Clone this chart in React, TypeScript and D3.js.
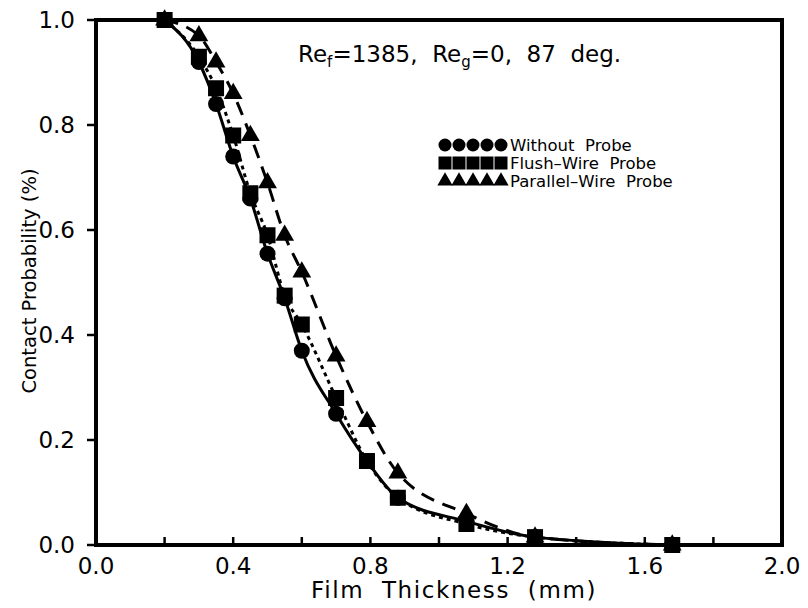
import React from "react";
import * as d3 from "d3";

const thickness = [0.2, 0.3, 0.35, 0.4, 0.45, 0.5, 0.55, 0.6, 0.7, 0.79, 0.88, 1.08, 1.28, 1.68];
const withoutProbe = [1.0, 0.92, 0.84, 0.74, 0.66, 0.555, 0.47, 0.37, 0.25, 0.16, 0.09, 0.045, 0.015, 0.0];
const flushWire = [1.0, 0.93, 0.87, 0.78, 0.67, 0.59, 0.475, 0.42, 0.28, 0.16, 0.09, 0.04, 0.015, 0.0];
const parallelWire = [1.0, 0.97, 0.92, 0.86, 0.78, 0.69, 0.59, 0.52, 0.36, 0.235, 0.137, 0.06, 0.015, 0.0];
const xTicks = [0.0, 0.4, 0.8, 1.2, 1.6, 2.0];
const yTicks = [0.0, 0.2, 0.4, 0.6, 0.8, 1.0];
const sp = "\u00a0\u00a0";
const legendLabels = [`Without${sp}Probe`, `Flush\u2013Wire${sp}Probe`, `Parallel\u2013Wire${sp}Probe`];

const W = 808, H = 608;
const margin = { left: 96, right: 26, top: 20, bottom: 63 };
const font = "'DejaVu Sans', sans-serif";

export default function App() {
  const ref = React.useRef<SVGSVGElement>(null);

  React.useEffect(() => {
    const svg = d3.select(ref.current);
    svg.selectAll("*").remove();

    const x = d3.scaleLinear().domain([0, 2]).range([margin.left, W - margin.right]);
    const y = d3.scaleLinear().domain([0, 1]).range([H - margin.bottom, margin.top]);

    const series = [
      { vals: withoutProbe, dash: null, shape: "circle" },
      { vals: flushWire, dash: "4,4", shape: "square" },
      { vals: parallelWire, dash: "14,9", shape: "triangle" },
    ];

    const line = d3.line<[number, number]>()
      .x(d => x(d[0]))
      .y(d => y(d[1]))
      .curve(d3.curveMonotoneX);

    const marker = (g: any, shape: string, cx: number, cy: number, s: number) => {
      if (shape === "circle") {
        g.append("circle").attr("cx", cx).attr("cy", cy).attr("r", s * 0.5).attr("fill", "#000");
      } else if (shape === "square") {
        g.append("rect").attr("x", cx - s / 2).attr("y", cy - s / 2)
          .attr("width", s).attr("height", s).attr("fill", "#000");
      } else {
        const t = d3.symbol().type(d3.symbolTriangle).size(s * s * 0.6)();
        g.append("path").attr("d", t).attr("transform", `translate(${cx},${cy})`).attr("fill", "#000");
      }
    };

    // curves
    series.forEach(s => {
      const pts = thickness.map((t, i) => [t, s.vals[i]] as [number, number]);
      svg.append("path")
        .attr("d", line(pts))
        .attr("fill", "none")
        .attr("stroke", "#000")
        .attr("stroke-width", 3)
        .attr("stroke-dasharray", s.dash);
    });

    // markers
    series.forEach(s => {
      const g = svg.append("g");
      thickness.forEach((t, i) => marker(g, s.shape, x(t), y(s.vals[i]), 16));
    });

    // frame
    svg.append("rect")
      .attr("x", margin.left).attr("y", margin.top)
      .attr("width", W - margin.left - margin.right)
      .attr("height", H - margin.top - margin.bottom)
      .attr("fill", "none").attr("stroke", "#000").attr("stroke-width", 4);

    // x ticks
    const xMinor = d3.range(0, 2.01, 0.2);
    svg.append("g").selectAll("line").data(xMinor).join("line")
      .attr("x1", d => x(d)).attr("x2", d => x(d))
      .attr("y1", y(0)).attr("y2", y(0) - 8)
      .attr("stroke", "#000").attr("stroke-width", 2.5);
    svg.append("g").selectAll("text").data(xTicks).join("text")
      .attr("x", d => x(d)).attr("y", y(0) + 29)
      .attr("text-anchor", "middle")
      .attr("font-family", font).attr("font-size", 23)
      .text(d => d.toFixed(1));

    // y ticks
    svg.append("g").selectAll("line").data(yTicks).join("line")
      .attr("x1", margin.left).attr("x2", margin.left - 9)
      .attr("y1", d => y(d)).attr("y2", d => y(d))
      .attr("stroke", "#000").attr("stroke-width", 2.5);
    svg.append("g").selectAll("text").data(yTicks).join("text")
      .attr("x", margin.left - 21).attr("y", d => y(d) + 8)
      .attr("text-anchor", "end")
      .attr("font-family", font).attr("font-size", 23)
      .text(d => d.toFixed(1));

    // axis titles
    svg.append("text")
      .attr("x", 311).attr("y", 598)
      .attr("letter-spacing", 1.6)
      .attr("font-family", font).attr("font-size", 23)
      .text(`Film${sp}Thickness${sp}(mm)`);
    svg.append("text")
      .attr("transform", `translate(36,281) rotate(-90)`)
      .attr("text-anchor", "middle")
      .attr("font-family", font).attr("font-size", 19.5)
      .text("Contact Probability (%)");

    // annotation
    const ann = svg.append("text")
      .attr("x", 298).attr("y", 62)
      .attr("font-family", font).attr("font-size", 23);
    ann.append("tspan").text("Re");
    ann.append("tspan").attr("font-size", 15).attr("dy", 5).text("f");
    ann.append("tspan").attr("dy", -5).text(`=1385,${sp}Re`);
    ann.append("tspan").attr("font-size", 15).attr("dy", 5).text("g");
    ann.append("tspan").attr("dy", -5).text(`=0,${sp}87${sp}deg.`);

    // legend
    const lg = svg.append("g");
    series.forEach((s, i) => {
      const ly = 145 + i * 18;
      const gm = lg.append("g");
      d3.range(5).forEach(k => marker(gm, s.shape, 445 + k * 14, ly, 13));
      lg.append("text")
        .attr("x", 510).attr("y", ly + 6)
        .attr("font-family", font).attr("font-size", 16.5)
        .text(legendLabels[i]);
    });
  }, []);

  return <svg ref={ref} width={W} height={H} style={{ position: "absolute", left: 0, top: 0, background: "#fff" }} />;
}
